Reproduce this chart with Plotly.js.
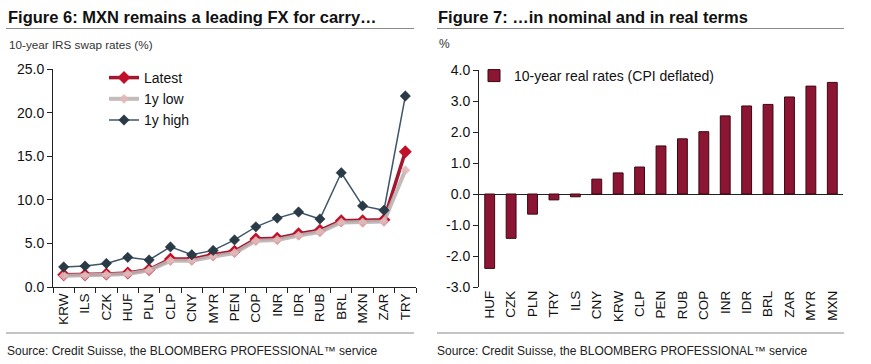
<!DOCTYPE html>
<html><head><meta charset="utf-8">
<script src="https://cdn.plot.ly/plotly-3.0.1.min.js"></script>
<style>body{margin:0;background:#fff}#c{width:871px;height:364px}</style></head>
<body><div id="c"></div>
<script>
// ---- data ----
const ccyNominal = ['KRW','ILS','CZK','HUF','PLN','CLP','CNY','MYR','PEN','COP','INR','IDR','RUB','BRL','MXN','ZAR','TRY'];
const latest = [1.4,1.4,1.5,1.6,2.0,3.2,3.2,3.7,4.1,5.5,5.6,6.1,6.5,7.6,7.6,7.7,15.5];
const low1y  = [1.3,1.3,1.4,1.5,1.9,3.0,3.0,3.5,3.9,5.3,5.4,5.9,6.3,7.4,7.4,7.5,13.4];
const high1y = [2.3,2.4,2.7,3.4,3.1,4.6,3.7,4.2,5.4,6.9,7.9,8.6,7.8,13.1,9.3,8.8,21.9];
const ccyReal = ['HUF','CZK','PLN','TRY','ILS','CNY','KRW','CLP','PEN','RUB','COP','INR','IDR','BRL','ZAR','MYR','MXN'];
const realRates = [-2.4,-1.43,-0.65,-0.19,-0.09,0.48,0.68,0.87,1.55,1.78,2.01,2.52,2.84,2.89,3.13,3.48,3.6];
const leftTicks = [0,5,10,15,20,25];
const rightTicks = [-3,-2,-1,0,1,2,3,4];

// ---- layout helpers (pixel -> paper) ----
const W = 871, H = 364;
const px = x => x / W;
const py = y => 1 - y / H;
const FONT = 'Liberation Sans, Arial, sans-serif';

const yDom1 = [py(287), py(69)];
const yDom2 = [py(287), py(70)];
const rRange = [-3, 4];
const zeroPos = yDom2[0] + (0 - rRange[0]) / (rRange[1] - rRange[0]) * (yDom2[1] - yDom2[0]);
const bounds = ccyReal.map((_, i) => i - 0.5).concat([ccyReal.length - 0.5]);

const traces = [
  {x: ccyNominal, y: latest, name: 'Latest', type: 'scatter', mode: 'lines+markers',
   xaxis: 'x', yaxis: 'y', legend: 'legend',
   line: {color: '#a3162f', width: 3.5}, marker: {symbol: 'diamond', size: 10, color: '#c0102a'}},
  {x: ccyNominal, y: low1y, name: '1y low', type: 'scatter', mode: 'lines+markers',
   xaxis: 'x', yaxis: 'y', legend: 'legend',
   line: {color: 'rgba(188,178,178,0.9)', width: 4}, marker: {symbol: 'diamond', size: 7.5, color: 'rgba(225,185,185,0.9)'}},
  {x: ccyNominal, y: high1y, name: '1y high', type: 'scatter', mode: 'lines+markers',
   xaxis: 'x', yaxis: 'y', legend: 'legend',
   line: {color: '#3e5668', width: 1.5}, marker: {symbol: 'diamond', size: 8, color: '#2a3b48', line: {color: '#18242d', width: 0.5}}},
  {x: ccyReal, y: realRates, name: '10-year real rates (CPI deflated)', type: 'bar',
   xaxis: 'x2', yaxis: 'y2', legend: 'legend2', width: 0.46,
   marker: {color: '#8c1533', line: {color: '#3a0812', width: 1}}}
];

const axisFont = {family: FONT, size: 14, color: '#111'};
const catFont = {family: FONT, size: 13.5, color: '#111'};

const layout = {
  width: W, height: H, margin: {l: 0, r: 0, t: 0, b: 0},
  paper_bgcolor: '#fff', plot_bgcolor: '#fff', showlegend: true,
  xaxis: {domain: [px(53), px(416)], anchor: 'y', type: 'category', range: [-0.5, 16.5],
    showline: true, linecolor: '#222', linewidth: 1, ticks: 'outside', tickson: 'boundaries',
    ticklen: 5, tickcolor: '#222', tickangle: -90, tickfont: catFont, showgrid: false, fixedrange: true},
  yaxis: {domain: yDom1, anchor: 'x', range: [0, 25], tickvals: leftTicks, ticktext: leftTicks.map(v => v.toFixed(1)),
    showline: true, linecolor: '#222', linewidth: 1, ticks: 'outside', ticklen: 5, tickcolor: '#222',
    tickfont: axisFont, showgrid: false, zeroline: false},
  xaxis2: {domain: [px(479), px(843)], anchor: 'y2', type: 'category', range: [-0.5, 16.5],
    showline: false, ticks: '', tickangle: -90, tickfont: catFont, showgrid: false},
  yaxis2: {domain: yDom2, anchor: 'x2', range: rRange, tickvals: rightTicks, ticktext: rightTicks.map(v => v.toFixed(1)),
    showline: true, linecolor: '#222', linewidth: 1, ticks: 'outside', ticklen: 5, tickcolor: '#222',
    tickfont: axisFont, showgrid: false, zeroline: true, zerolinecolor: '#222', zerolinewidth: 1},
  xaxis3: {domain: [px(479), px(843)], overlaying: 'x2', anchor: 'free', position: zeroPos,
    range: [-0.5, 16.5], tickvals: bounds, showticklabels: false, ticks: 'outside', ticklen: 5,
    tickcolor: '#222', showline: true, linecolor: '#222', showgrid: false, zeroline: false},
  legend: {x: px(104), y: py(62), xanchor: 'left', yanchor: 'top', bgcolor: 'rgba(0,0,0,0)',
    font: {family: FONT, size: 14, color: '#111'}, tracegroupgap: 0},
  legend2: {x: px(474), y: py(60), xanchor: 'left', yanchor: 'top', bgcolor: 'rgba(0,0,0,0)',
    font: {family: FONT, size: 14, color: '#111'}},
  annotations: [
    {text: '<b>Figure 6: MXN remains a leading FX for carry…</b>', xref: 'paper', yref: 'paper', x: px(6), y: py(17),
     xanchor: 'left', yanchor: 'middle', showarrow: false, font: {family: FONT, size: 16.5, color: '#111'}},
    {text: '<b>Figure 7: …in nominal and in real terms</b>', xref: 'paper', yref: 'paper', x: px(436), y: py(17),
     xanchor: 'left', yanchor: 'middle', showarrow: false, font: {family: FONT, size: 16.5, color: '#111'}},
    {text: '10-year IRS swap rates (%)', xref: 'paper', yref: 'paper', x: px(7), y: py(44),
     xanchor: 'left', yanchor: 'middle', showarrow: false, font: {family: FONT, size: 11.7, color: '#333'}},
    {text: '%', xref: 'paper', yref: 'paper', x: px(437), y: py(44),
     xanchor: 'left', yanchor: 'middle', showarrow: false, font: {family: FONT, size: 12, color: '#333'}},
    {text: 'Source: Credit Suisse, the BLOOMBERG PROFESSIONAL™ service', xref: 'paper', yref: 'paper', x: px(5), y: py(351),
     xanchor: 'left', yanchor: 'middle', showarrow: false, font: {family: FONT, size: 12, color: '#222'}},
    {text: 'Source: Credit Suisse, the BLOOMBERG PROFESSIONAL™ service', xref: 'paper', yref: 'paper', x: px(435), y: py(351),
     xanchor: 'left', yanchor: 'middle', showarrow: false, font: {family: FONT, size: 12, color: '#222'}}
  ],
  shapes: [
    {type: 'line', xref: 'paper', yref: 'paper', x0: px(6), x1: px(414), y0: py(28.5), y1: py(28.5), line: {color: '#8a8a8a', width: 1.2}},
    {type: 'line', xref: 'paper', yref: 'paper', x0: px(437), x1: px(844), y0: py(28.5), y1: py(28.5), line: {color: '#8a8a8a', width: 1.2}},
    {type: 'line', xref: 'paper', yref: 'paper', x0: px(6), x1: px(414), y0: py(333), y1: py(333), line: {color: '#8a8a8a', width: 1.2}},
    {type: 'line', xref: 'paper', yref: 'paper', x0: px(437), x1: px(844), y0: py(333), y1: py(333), line: {color: '#8a8a8a', width: 1.2}}
  ]
};

Plotly.newPlot('c', traces, layout, {staticPlot: true, displayModeBar: false});
</script>
</body></html>
